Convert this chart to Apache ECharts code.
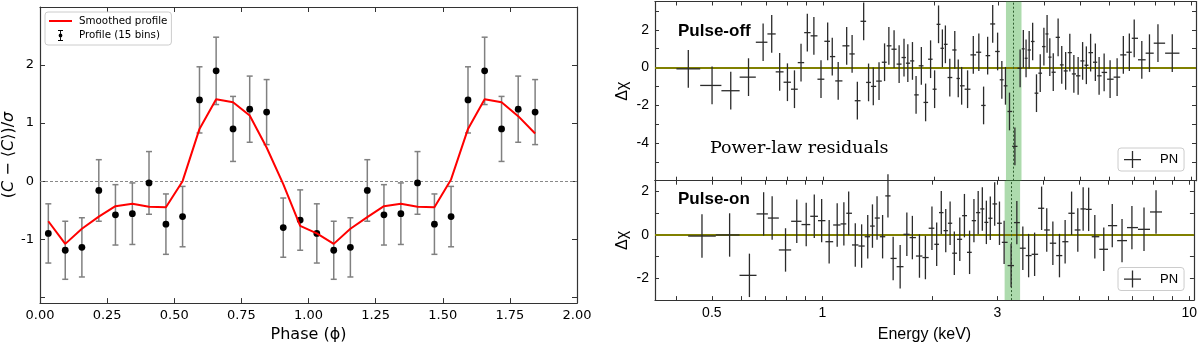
<!DOCTYPE html>
<html>
<head>
<meta charset="utf-8">
<script src="https://cdn.jsdelivr.net/npm/echarts@6/dist/echarts.min.js"></script>
<style>
  html, body { margin: 0; padding: 0; background: #fff; }
  #chart { width: 1200px; height: 348px; }
</style>
</head>
<body>
<div id="chart"></div>
<script>
// ---- left panel: pulse profile ----
var phase = [0.031, 0.094, 0.156, 0.219, 0.281, 0.344, 0.406, 0.469, 0.531, 0.594,
             0.656, 0.719, 0.781, 0.844, 0.906, 0.969, 1.031, 1.094, 1.156, 1.219,
             1.281, 1.344, 1.406, 1.469, 1.531, 1.594, 1.656, 1.719, 1.781, 1.844];
var profile = [-0.90, -1.19, -1.14, -0.16, -0.58, -0.56, -0.03, -0.74, -0.61, 1.40,
               1.90, 0.90, 1.24, 1.19, -0.80, -0.67, -0.90, -1.19, -1.14, -0.16,
               -0.58, -0.56, -0.03, -0.74, -0.61, 1.40, 1.90, 0.90, 1.24, 1.19];
var profileErr = [0.51, 0.50, 0.51, 0.53, 0.52, 0.53, 0.54, 0.52, 0.52, 0.57,
                  0.58, 0.56, 0.57, 0.56, 0.51, 0.52, 0.51, 0.50, 0.51, 0.53,
                  0.52, 0.53, 0.54, 0.52, 0.52, 0.57, 0.58, 0.56, 0.57, 0.56];
var smoothed = [-0.69, -1.08, -0.82, -0.61, -0.43, -0.39, -0.44, -0.45, 0.00, 0.90,
                1.41, 1.36, 1.13, 0.58, -0.05, -0.77, -0.90, -1.08, -0.82, -0.62,
                -0.43, -0.39, -0.44, -0.45, 0.03, 0.90, 1.41, 1.36, 1.12, 0.82];

// ---- right panels: power-law residuals (PN) ----
var offE = [0.431, 0.50, 0.562, 0.628, 0.688, 0.726, 0.763, 0.801, 0.837, 0.872,
            0.907, 0.945, 0.988, 1.03, 1.06, 1.10, 1.16, 1.20, 1.24, 1.29,
            1.33, 1.37, 1.42, 1.47, 1.51, 1.56, 1.61, 1.66, 1.70, 1.75,
            1.79, 1.85, 1.90, 1.96, 2.01, 2.06, 2.11, 2.15, 2.21, 2.28,
            2.33, 2.38, 2.47, 2.56, 2.65, 2.73, 2.80, 2.89, 2.98, 3.06,
            3.13, 3.21, 3.32, 3.43, 3.50, 3.56, 3.63, 3.71, 3.80, 3.89,
            3.98, 4.06, 4.13, 4.22, 4.35, 4.45, 4.56, 4.68, 4.80, 4.93,
            5.07, 5.19, 5.33, 5.49, 5.62, 5.80, 6.02, 6.29, 6.54, 6.79,
            7.00, 7.34, 7.70, 8.12, 8.88];
var offD = [-0.07, -0.95, -1.23, -0.51, 1.34, 1.78, -0.23, -0.78, -1.15, 0.26,
            1.85, 1.68, -0.62, 1.39, 0.58, -0.71, 1.15, 0.72, -1.76, 2.45,
            -0.79, -1.00, -0.72, 0.28, 1.15, 0.97, 0.18, 0.53, 0.23, 0.35,
            -1.45, 0.09, -1.85, 0.44, -1.15, 2.29, 1.02, 1.23, -0.53, 0.93,
            -0.58, -0.97, -1.15, 0.67, 0.81, -2.01, 0.63, 2.31, 0.85, -0.65,
            -0.97, -2.33, -4.18, -0.04, 0.99, 0.49, 0.93, 1.38, -1.36, -0.30,
            1.11, 1.78, 0.55, -0.25, 1.60, 0.14, -0.18, 0.79, -0.34, -0.44,
            0.35, 0.12, 0.79, 0.28, -0.44, -0.26, -0.62, -0.51, 0.67, 0.81,
            1.55, 0.41, 0.76, 1.29, 0.76];
var onE = [0.47, 0.559, 0.633, 0.692, 0.73, 0.794, 0.852, 0.904, 0.951, 0.996,
           1.044, 1.098, 1.145, 1.18, 1.23, 1.28, 1.33, 1.37, 1.41, 1.46,
           1.51, 1.56, 1.63, 1.70, 1.76, 1.84, 1.91, 1.99, 2.05, 2.11,
           2.17, 2.23, 2.29, 2.37, 2.44, 2.52, 2.59, 2.66, 2.73, 2.80,
           2.87, 2.95, 3.04, 3.13, 3.27, 3.39, 3.52, 3.65, 3.79, 3.96,
           4.09, 4.25, 4.43, 4.59, 4.78, 4.97, 5.14, 5.32, 5.53, 5.85,
           6.17, 6.56, 6.98, 7.53, 8.12];
var onD = [-0.05, 0.00, -1.86, 0.97, 0.78, -0.69, 0.63, 0.48, 0.86, 0.66,
           -0.31, 0.46, 0.51, 1.00, -0.46, -0.51, -0.08, 0.41, 0.78, -0.08,
           1.80, -1.08, -1.46, 0.03, -0.12, -0.97, -1.04, 0.31, -0.43, 1.03,
           0.20, 0.54, -0.84, -0.20, 0.89, -0.80, 0.66, 1.03, 1.20, 0.58,
           0.77, 1.43, 0.54, -0.34, -1.41, 0.57, -0.61, -0.95, -0.89, 1.23,
           0.23, -0.38, -0.95, -0.31, 1.00, 0.23, 1.20, 1.18, -0.08, -0.66,
           0.43, -0.26, 0.34, 0.26, 1.06];
var residErr = 1.0;
var lineE = 3.28, bandE = [3.14, 3.46];
var energyLabels = [0.5, 1, 3, 10];
var energyTicks = [0.4, 0.5, 0.6, 0.7, 0.8, 0.9, 1, 2, 3, 4, 5, 6, 7, 8, 9, 10];

var chart = echarts.init(document.getElementById('chart'));
var sans = 'DejaVu Sans', rsans = 'Liberation Sans';
var axisCol = '#333';

// bin edges from neighbouring centres (geometric mid-points, log axis)
function binned(e, d) {
    var res = [];
    for (var i = 0; i < e.length; i++) {
        var lo = i > 0 ? Math.sqrt(e[i - 1] * e[i]) : e[i] * e[i] / Math.sqrt(e[i] * e[i + 1]);
        var hi = i < e.length - 1 ? Math.sqrt(e[i] * e[i + 1]) : e[i] * e[i] / Math.sqrt(e[i - 1] * e[i]);
        res.push([e[i], d[i], lo, hi, residErr]);
    }
    return res;
}

var profileData = phase.map(function (p, i) { return [p, profile[i], profileErr[i]]; });
var smoothData = phase.map(function (p, i) { return [p, smoothed[i]]; });

function profileRender(params, api) {
    var x = api.value(0), y = api.value(1), e = api.value(2);
    var t = api.coord([x, y + e]), b = api.coord([x, y - e]), c = api.coord([x, y]);
    var s = { stroke: '#808080', lineWidth: 1.5 };
    return {
        type: 'group',
        children: [
            { type: 'line', shape: { x1: t[0], y1: t[1], x2: b[0], y2: b[1] }, style: s },
            { type: 'line', shape: { x1: t[0] - 3, y1: t[1], x2: t[0] + 3, y2: t[1] }, style: s },
            { type: 'line', shape: { x1: b[0] - 3, y1: b[1], x2: b[0] + 3, y2: b[1] }, style: s },
            { type: 'circle', shape: { cx: c[0], cy: c[1], r: 3.4 }, style: { fill: '#000' } }
        ]
    };
}

function residRender(params, api) {
    var x = api.value(0), y = api.value(1), lo = api.value(2), hi = api.value(3), e = api.value(4);
    var t = api.coord([x, y + e]), b = api.coord([x, y - e]);
    var l = api.coord([lo, y]), r = api.coord([hi, y]);
    var s = { stroke: '#2b2b2b', lineWidth: 1.3 };
    return {
        type: 'group',
        children: [
            { type: 'line', shape: { x1: t[0], y1: t[1], x2: b[0], y2: b[1] }, style: s },
            { type: 'line', shape: { x1: l[0], y1: l[1], x2: r[0], y2: r[1] }, style: s }
        ]
    };
}

function boxAxis(extra) {
    var base = {
        axisLine: { show: true, onZero: false, lineStyle: { color: axisCol, width: 1.2 } },
        axisTick: { show: true, inside: true, length: 4, lineStyle: { color: axisCol } },
        splitLine: { show: false }
    };
    return Object.assign(base, extra);
}

var phaseX = function (pos, show) {
    return boxAxis({
        type: 'value', gridIndex: 0, position: pos, min: 0, max: 2, interval: 0.25,
        axisTick: { show: true, inside: true, length: 5, lineStyle: { color: axisCol } },
        axisLabel: { show: show, margin: 6, color: '#000', fontFamily: sans, fontSize: 13,
                     formatter: function (v) { return v.toFixed(2); } },
        name: show ? 'Phase (ϕ)' : '', nameLocation: 'middle', nameGap: 22,
        nameTextStyle: { color: '#000', fontFamily: sans, fontSize: 16 }
    });
};
var profY = function (pos, show) {
    return boxAxis({
        type: 'value', gridIndex: 0, position: pos, min: -2.1, max: 3.0,
        axisTick: { show: true, inside: true, length: 5, customValues: [-2, -1, 0, 1, 2], lineStyle: { color: axisCol } },
        axisLabel: { show: show, margin: 6, color: '#000', fontFamily: sans, fontSize: 13,
                     customValues: [-1, 0, 1, 2] },
        name: show ? '({i|C} − ⟨{i|C}⟩)/{i|σ}' : '', nameLocation: 'middle', nameGap: 16,
        nameTextStyle: { color: '#000', fontFamily: sans, fontSize: 16,
                         rich: { i: { fontStyle: 'italic', fontFamily: sans, fontSize: 16 } } }
    });
};
var energyX = function (grid, pos, show) {
    return boxAxis({
        type: 'log', logBase: 10, gridIndex: grid, position: pos, min: 0.35, max: 10.3,
        axisTick: { show: true, inside: true, length: 4, customValues: energyTicks, lineStyle: { color: axisCol } },
        axisLabel: { show: show, margin: 6, color: '#000', fontFamily: rsans, fontSize: 14,
                     customValues: energyLabels, formatter: function (v) { return String(v); } },
        name: show ? 'Energy (keV)' : '', nameLocation: 'middle', nameGap: 26,
        nameTextStyle: { color: '#000', fontFamily: rsans, fontSize: 16 }
    });
};
var residY = function (grid, pos, show, min, max, labels, ticks) {
    return boxAxis({
        type: 'value', gridIndex: grid, position: pos, min: min, max: max,
        axisTick: { show: true, inside: true, length: 4, customValues: ticks, lineStyle: { color: axisCol } },
        axisLabel: { show: show, margin: 6, color: '#000', fontFamily: rsans, fontSize: 14, customValues: labels },
        name: show ? 'Δχ' : '', nameLocation: 'middle', nameGap: 24,
        nameTextStyle: { color: '#000', fontFamily: rsans, fontSize: 16 }
    });
};

var bandMark = {
    silent: true, z: 1,
    itemStyle: { color: 'rgba(60,170,60,0.42)' },
    data: [[{ xAxis: bandE[0] }, { xAxis: bandE[1] }]]
};
var residLines = {
    silent: true, symbol: 'none', z: 1, label: { show: false },
    data: [
        { yAxis: 0, lineStyle: { color: '#808000', width: 2, type: 'solid' } },
        { xAxis: lineE, lineStyle: { color: '#2f5f2f', width: 1, type: [2, 2] } }
    ]
};
var plusIcon = 'path://M0,8h17v1.3h-17z M7.85,0h1.3v17h-1.3z';

chart.setOption({
    backgroundColor: '#fff',
    animation: false,
    grid: [
        { left: 40, top: 7, width: 537, height: 300 },
        { left: 655, top: 1.5, width: 541, height: 179.2 },
        { left: 655, top: 180.7, width: 541, height: 119.4 }
    ],
    legend: [
        {
            orient: 'vertical', left: 45, top: 12, padding: [4, 4], itemWidth: 23, itemHeight: 11, itemGap: 4,
            backgroundColor: '#fff', borderColor: '#ccc', borderWidth: 1, borderRadius: 3, selectedMode: false,
            textStyle: { color: '#000', fontFamily: sans, fontSize: 10.3, padding: [0, 0, 0, 2] },
            data: [
                { name: 'Smoothed profile', icon: 'path://M0,0h23v2h-23z' },
                { name: 'Profile (15 bins)', icon: 'path://M3,0h5v0.9h-5z M5.05,0h0.9v11h-0.9z M3,10.1h5v0.9h-5z M5.5,3.6L6.9,4.1L7.4,5.5L6.9,6.9L5.5,7.4L4.1,6.9L3.6,5.5L4.1,4.1z' }
            ]
        },
        {
            left: 1118, top: 148, padding: [3, 6], itemWidth: 17, itemHeight: 17,
            backgroundColor: '#fff', borderColor: '#ccc', borderWidth: 1, borderRadius: 3, selectedMode: false,
            textStyle: { color: '#000', fontFamily: rsans, fontSize: 13, padding: [0, 0, 0, 14] },
            data: [{ name: 'PN', icon: plusIcon }]
        },
        {
            left: 1118, top: 267.5, padding: [3, 6], itemWidth: 17, itemHeight: 17,
            backgroundColor: '#fff', borderColor: '#ccc', borderWidth: 1, borderRadius: 3, selectedMode: false,
            textStyle: { color: '#000', fontFamily: rsans, fontSize: 13, padding: [0, 0, 0, 14] },
            data: [{ name: 'PN', icon: plusIcon }]
        }
    ],
    xAxis: [
        phaseX('bottom', true),
        phaseX('top', false),
        energyX(1, 'bottom', false),
        energyX(1, 'top', false),
        energyX(2, 'bottom', true),
        energyX(2, 'top', false)
    ],
    yAxis: [
        profY('left', true),
        profY('right', false),
        residY(1, 'left', true, -6, 3.5, [-4, -2, 0, 2], [-5, -4, -3, -2, -1, 0, 1, 2, 3]),
        residY(1, 'right', false, -6, 3.5, [-4, -2, 0, 2], [-5, -4, -3, -2, -1, 0, 1, 2, 3]),
        residY(2, 'left', true, -3, 2.5, [-2, 0, 2], [-2, -1, 0, 1, 2]),
        residY(2, 'right', false, -3, 2.5, [-2, 0, 2], [-2, -1, 0, 1, 2])
    ],
    graphic: [
        { type: 'text', x: 678, y: 31, style: { text: 'Pulse-off', fill: '#000', font: 'bold 17px "Liberation Sans"', verticalAlign: 'middle' } },
        { type: 'text', x: 710, y: 148, style: { text: 'Power-law residuals', fill: '#000', font: '17.5px "DejaVu Serif"', verticalAlign: 'middle' } },
        { type: 'text', x: 678, y: 199, style: { text: 'Pulse-on', fill: '#000', font: 'bold 17px "Liberation Sans"', verticalAlign: 'middle' } }
    ],
    series: [
        {
            name: 'Smoothed profile', type: 'line', xAxisIndex: 0, yAxisIndex: 0,
            data: smoothData, symbol: 'none', z: 3,
            lineStyle: { color: '#ff0000', width: 2 }, itemStyle: { color: '#ff0000' },
            markLine: {
                silent: true, symbol: 'none', z: 1, label: { show: false },
                lineStyle: { color: '#888', width: 1, type: [3, 2] },
                data: [{ yAxis: 0 }]
            }
        },
        {
            name: 'Profile (15 bins)', type: 'custom', xAxisIndex: 0, yAxisIndex: 0,
            renderItem: profileRender, data: profileData, z: 2,
            itemStyle: { color: '#000' }
        },
        {
            name: 'PN', type: 'custom', xAxisIndex: 2, yAxisIndex: 2,
            renderItem: residRender, data: binned(offE, offD), z: 3,
            itemStyle: { color: '#2b2b2b' },
            markArea: bandMark, markLine: residLines
        },
        {
            name: 'PN', type: 'custom', xAxisIndex: 4, yAxisIndex: 4,
            renderItem: residRender, data: binned(onE, onD), z: 3,
            itemStyle: { color: '#2b2b2b' },
            markArea: bandMark, markLine: residLines
        }
    ]
});
</script>
</body>
</html>
